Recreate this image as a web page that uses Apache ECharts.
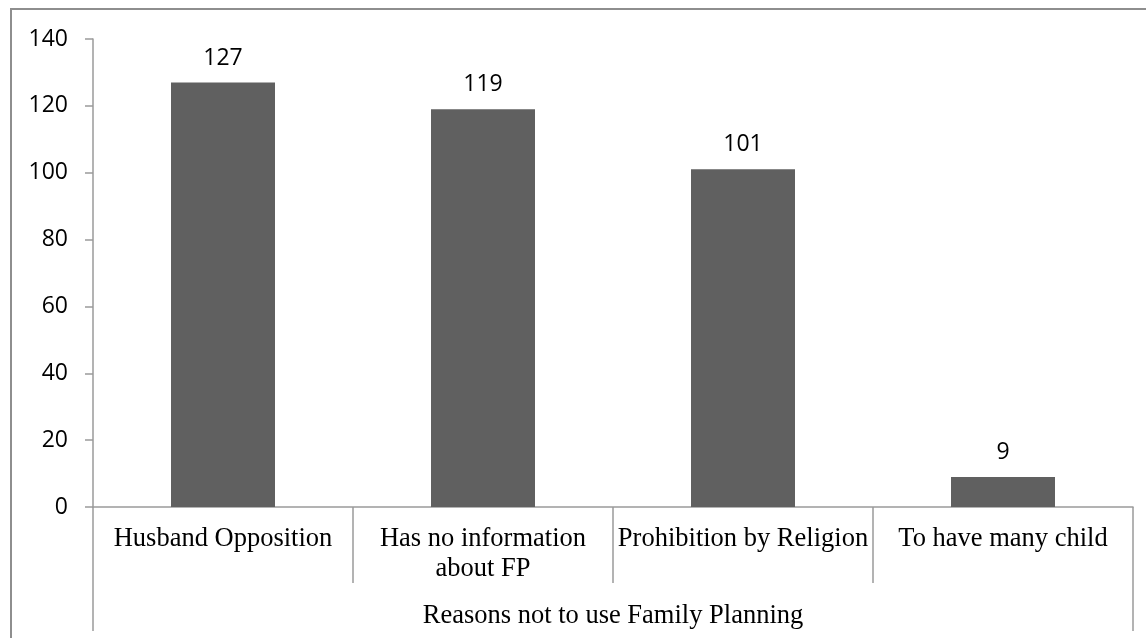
<!DOCTYPE html>
<html>
<head>
<meta charset="utf-8">
<script src="https://cdn.jsdelivr.net/npm/echarts@6/dist/echarts.min.js"></script>
<style>
    html, body { margin: 0; padding: 0; background: #fff; }
    #main { width: 1146px; height: 638px; }
</style>
</head>
<body>
<div id="main"></div>
<script>
// data
var categories = ['Husband Opposition', 'Has no information\nabout FP', 'Prohibition by Religion', 'To have many child'];
var counts = [127, 119, 101, 9];
var groupLabel = ['Reasons not to use Family Planning'];

var axisGray = '#9a9a9a';
var numFont = '"Open Sans", "Liberation Sans", sans-serif';
var textFont = '"Liberation Serif", "DejaVu Serif", serif';

var myChart = echarts.init(document.getElementById('main'));

var option = {
    animation: false,
    backgroundColor: '#fff',
    // outer frame: only the left and top edges fall inside the picture
    graphic: [{
        type: 'polyline',
        shape: { points: [[11, 700], [11, 9], [1300, 9]] },
        style: { fill: 'none', stroke: '#8e8e8e', lineWidth: 2 },
        silent: true
    }],
    grid: {
        left: 93,
        right: 13,
        top: 39,
        bottom: 131
    },
    xAxis: [{
        type: 'category',
        data: categories,
        position: 'bottom',
        axisLine: { lineStyle: { color: axisGray, width: 1.5 } },
        axisTick: { show: true, length: 76, interval: 0, lineStyle: { color: axisGray, width: 1.5 } },
        axisLabel: {
            interval: 0,
            margin: 17,
            fontFamily: textFont,
            fontSize: 26.5,
            lineHeight: 30,
            color: '#000'
        }
    }, {
        type: 'category',
        data: groupLabel,
        position: 'bottom',
        axisLine: { show: false },
        axisTick: { show: true, length: 124, lineStyle: { color: axisGray, width: 1.5 } },
        axisLabel: {
            margin: 94,
            fontFamily: textFont,
            fontSize: 26.5,
            lineHeight: 30,
            color: '#000'
        }
    }],
    yAxis: {
        type: 'value',
        min: 0,
        max: 140,
        interval: 20,
        axisLine: { show: true, lineStyle: { color: axisGray, width: 1.5 } },
        axisTick: { show: true, length: 8, lineStyle: { color: axisGray, width: 1.5 } },
        splitLine: { show: false },
        axisLabel: {
            margin: 25,
            fontFamily: numFont,
            fontSize: 23,
            color: '#000'
        }
    },
    series: [{
        type: 'bar',
        xAxisIndex: 0,
        data: counts,
        barWidth: '40%',
        itemStyle: { color: '#606060' },
        label: {
            show: true,
            position: 'top',
            distance: 13,
            fontFamily: numFont,
            fontSize: 23,
            color: '#000'
        }
    }]
};

myChart.setOption(option);
</script>
</body>
</html>
